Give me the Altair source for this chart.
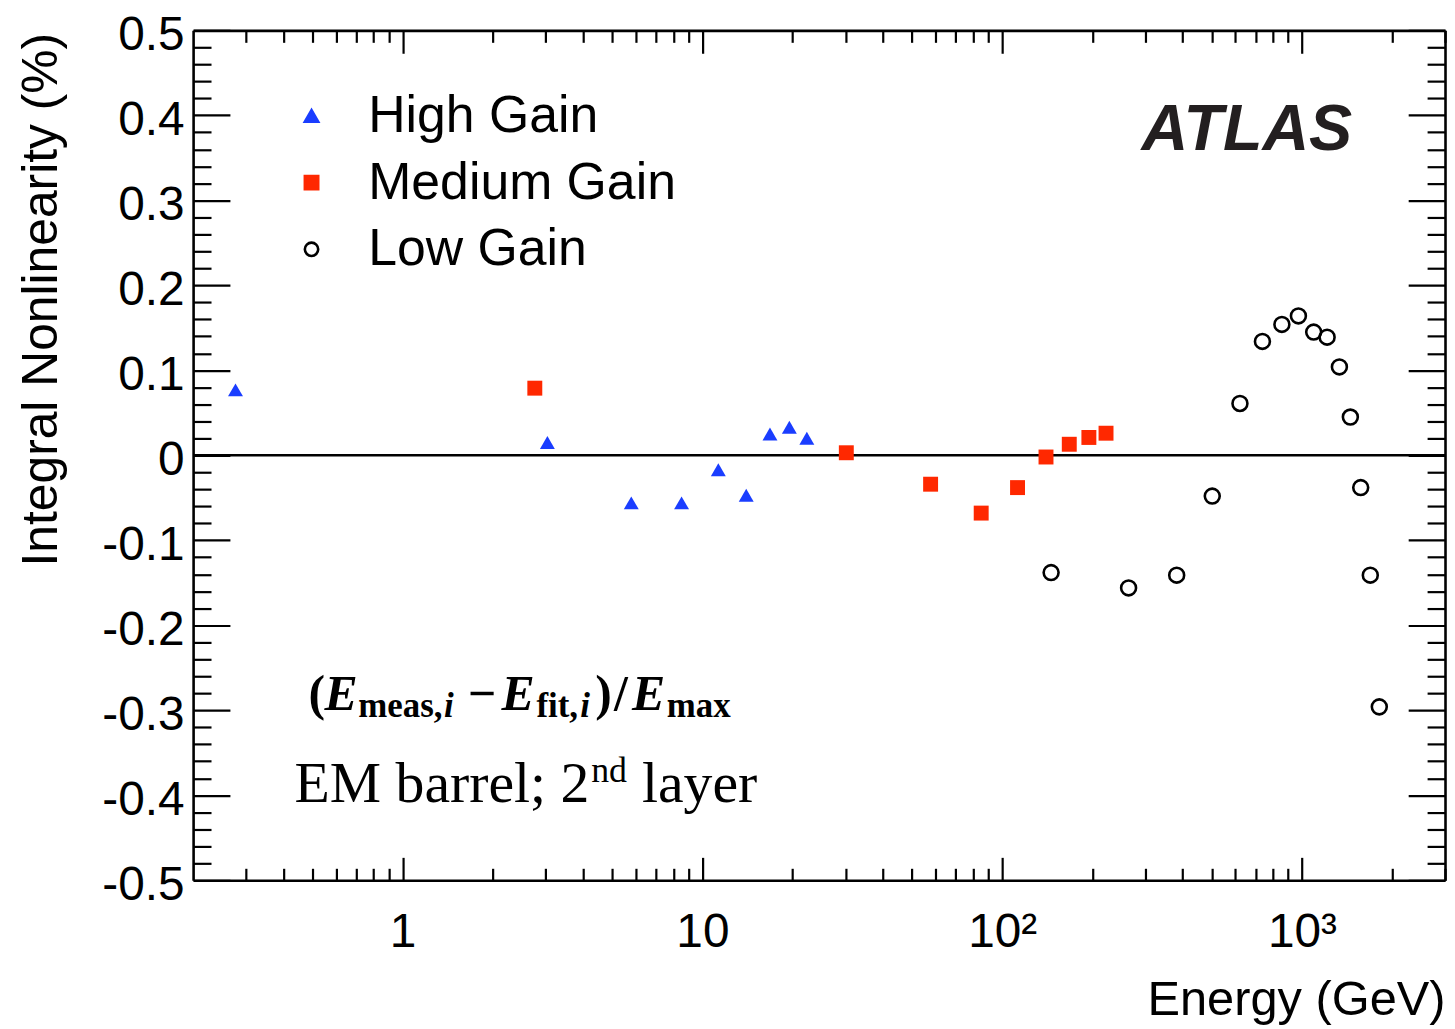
import altair as alt
import pandas as pd

# ---------------- data ----------------
SERIES = ["High Gain", "Medium Gain", "Low Gain"]

HIGH_E = [0.277, 3.04, 5.79, 8.52, 11.3, 14.0, 16.8, 19.5, 22.3]
HIGH_V = [0.077, 0.015, -0.056, -0.056, -0.017, -0.047, 0.025, 0.033, 0.020]

MED_E = [2.76, 30.2, 57.7, 85.1, 112.5, 140.0, 167.4, 194.6, 222.0]
MED_V = [0.079, 0.003, -0.034, -0.068, -0.038, -0.002, 0.013, 0.021, 0.026]

LOW_E = [145.6, 264, 382, 502, 621, 738, 857, 973, 1094, 1213, 1333, 1450, 1570, 1690, 1811]
LOW_V = [-0.138, -0.156, -0.141, -0.048, 0.061, 0.134, 0.154, 0.164, 0.145, 0.139,
         0.104, 0.045, -0.038, -0.141, -0.296]

X_DOMAIN = [0.2, 3000]
Y_DOMAIN = [-0.5, 0.5]
X_MAJOR = [1, 10, 100, 1000]
X_MAJOR_LABELS = ["1", "10", "10\u00b2", "10\u00b3"]
X_MINOR = [0.3, 0.4, 0.5, 0.6, 0.7, 0.8, 0.9,
           2, 3, 4, 5, 6, 7, 8, 9,
           20, 30, 40, 50, 60, 70, 80, 90,
           200, 300, 400, 500, 600, 700, 800, 900,
           2000, 3000]
Y_MAJOR = [-0.5, -0.4, -0.3, -0.2, -0.1, 0, 0.1, 0.2, 0.3, 0.4, 0.5]
Y_MAJOR_LABELS = ["-0.5", "-0.4", "-0.3", "-0.2", "-0.1", "0", "0.1", "0.2", "0.3", "0.4", "0.5"]
Y_MINOR = [-0.48, -0.46, -0.44, -0.42, -0.38, -0.36, -0.34, -0.32,
           -0.28, -0.26, -0.24, -0.22, -0.18, -0.16, -0.14, -0.12,
           -0.08, -0.06, -0.04, -0.02, 0.02, 0.04, 0.06, 0.08,
           0.12, 0.14, 0.16, 0.18, 0.22, 0.24, 0.26, 0.28,
           0.32, 0.34, 0.36, 0.38, 0.42, 0.44, 0.46, 0.48]
ZERO_LINE = [0]

X_TITLE = "Energy (GeV)"
Y_TITLE = "Integral Nonlinearity (%)"
ATLAS_TEXT = ["ATLAS"]
FORMULA_TEXT = ["(", "E", "meas,", "i", "\u2212", "E", "fit,", "i", ")", "/", "E", "max"]
LAYER_TEXT = ["EM barrel; 2", "nd", "layer"]

# ---------------- layout ----------------
W, H = 1258, 854
PAD = {"left": 186, "top": 20, "right": 2, "bottom": 147}
SANS = "Liberation Sans"
SERIF = "Liberation Serif"
BLUE = "#1a3dff"
RED = "#ff2800"


def rx(px):  # reference pixel -> plot pixel
    return (px - 194) * W / 1258.0


def ry(py):
    return (py - 28) * H / 854.0


rows = []
for name, es, vs in [(SERIES[0], HIGH_E, HIGH_V), (SERIES[1], MED_E, MED_V), (SERIES[2], LOW_E, LOW_V)]:
    for e, v in zip(es, vs):
        rows.append({"energy": e, "value": v, "series": name})
df = pd.DataFrame(rows)


def label_expr(values, labels):
    expr = "''"
    for v, s in zip(values, labels):
        expr = f"(abs(datum.value - ({v})) < 1e-6 ? '{s}' : {expr})"
    return expr


xs = alt.Scale(type="log", domain=X_DOMAIN, nice=False)
ys = alt.Scale(domain=Y_DOMAIN, nice=False, zero=False)

x_main = alt.Axis(orient="bottom", values=X_MAJOR, labelExpr=label_expr(X_MAJOR, X_MAJOR_LABELS),
                  ticks=False, tickSize=0, labelPadding=29, labelFont=SANS, labelFontSize=48,
                  labelColor="black", labelFlush=False, labelOverlap=False, grid=False,
                  domain=True, domainColor="black", domainWidth=2.6, zindex=1,
                  title=X_TITLE, titleFont=SANS, titleFontSize=49, titleFontWeight="normal",
                  titleColor="black", titleX=W, titleY=135, titleAlign="right",
                  titleBaseline="alphabetic", titleAngle=0)

y_main = alt.Axis(orient="left", values=Y_MAJOR, labelExpr=label_expr(Y_MAJOR, Y_MAJOR_LABELS),
                  ticks=False, tickSize=0, labelPadding=9, labelOffset=5, labelFont=SANS, labelFontSize=48,
                  labelColor="black", labelFlush=False, labelOverlap=False, grid=False,
                  domain=True, domainColor="black", domainWidth=2.6, zindex=1,
                  title=Y_TITLE, titleFont=SANS, titleFontSize=50, titleFontWeight="normal",
                  titleColor="black", titleX=-137, titleY=2, titleAlign="right",
                  titleBaseline="alphabetic", titleAngle=270)


def tick_axis(orient, offset, values, size, domain=False):
    return alt.Axis(orient=orient, offset=offset, values=values, ticks=True, tickSize=size,
                    tickWidth=2.2, tickColor="black", labels=False, grid=False,
                    domain=domain, domainColor="black", domainWidth=2.6, title=None, zindex=1)


leg = alt.Legend(title=None, orient="none", legendX=rx(287), legendY=ry(88), padding=0,
                 labelFont=SANS, labelFontSize=52, labelColor="black", labelOffset=31,
                 labelLimit=600, rowPadding=15, symbolSize=180, symbolStrokeWidth=2.6)

points = alt.Chart(df).mark_point(opacity=1, size=225).encode(
    x=alt.X("energy:Q", scale=xs, axis=x_main),
    y=alt.Y("value:Q", scale=ys, axis=y_main),
    stroke=alt.Stroke("series:N", scale=alt.Scale(domain=SERIES, range=[BLUE, RED, "black"]), legend=leg),
    fill=alt.Fill("series:N", scale=alt.Scale(domain=SERIES, range=[BLUE, RED, "transparent"]), legend=leg),
    shape=alt.Shape("series:N", scale=alt.Scale(domain=SERIES, range=["triangle-up", "square", "circle"]), legend=leg),
    strokeWidth=alt.condition(f"datum.series == '{SERIES[2]}'", alt.value(2.6), alt.value(0)),
)

zero = alt.Chart(pd.DataFrame({"y": ZERO_LINE})).mark_rule(color="black", strokeWidth=2.5).encode(
    y=alt.Y("y:Q", scale=ys, axis=None)
)


def tick_layer(xa, ya):
    return alt.Chart(df).mark_point(opacity=0).encode(
        x=alt.X("energy:Q", scale=xs, axis=xa),
        y=alt.Y("value:Q", scale=ys, axis=ya),
    )


ticks = [
    tick_layer(tick_axis("top", -H, X_MAJOR, 23), tick_axis("right", -W, Y_MAJOR, 37)),
    tick_layer(tick_axis("top", -H, X_MINOR, 12), tick_axis("right", -W, Y_MINOR, 18)),
    tick_layer(tick_axis("bottom", -H, X_MAJOR, 23, domain=True), tick_axis("left", -W, Y_MAJOR, 37, domain=True)),
    tick_layer(tick_axis("bottom", -H, X_MINOR, 12), tick_axis("left", -W, Y_MINOR, 18)),
]


def text_layer(txt, x, y, font, size, weight="normal", style="normal", color="black"):
    return alt.Chart(pd.DataFrame({"t": [txt]})).mark_text(
        font=font, fontSize=size, fontWeight=weight, fontStyle=style, color=color,
        align="left", baseline="alphabetic"
    ).encode(text="t:N", x=alt.value(x), y=alt.value(y))


texts = [text_layer(ATLAS_TEXT[0], rx(1147), ry(148), SANS, 65, "bold", "italic", "#231f20")]

# formula pieces: (index, ref x, is_sub, italic)
f_base = ry(711)
f_sub = f_base + 7
formula_layout = [(0, 310, False, False), (1, 326, False, True), (2, 360, True, False),
                  (3, 446, True, True), (4, 470, False, False), (5, 504, False, True),
                  (6, 539, True, False), (7, 583, True, True), (8, 598, False, False),
                  (9, 617, False, False), (10, 635, False, True), (11, 670, True, False)]
for i, px, sub, ital in formula_layout:
    texts.append(text_layer(FORMULA_TEXT[i], rx(px), f_sub if sub else f_base, SERIF,
                            35 if sub else 50, "bold", "italic" if ital else "normal"))

l_base = ry(803)
texts.append(text_layer(LAYER_TEXT[0], rx(296), l_base, SERIF, 58))
texts.append(text_layer(LAYER_TEXT[1], rx(594), l_base - 20, SERIF, 36))
texts.append(text_layer(LAYER_TEXT[2], rx(645), l_base, SERIF, 58))

chart = alt.layer(zero, points, *ticks, *texts).resolve_axis(
    x="independent", y="independent"
).properties(
    width=W, height=H, padding=PAD, autosize=alt.AutoSizeParams(type="none"), background="white"
).configure_view(stroke=None)

chart.save("out.html", embed_options={"renderer": "svg", "actions": False})
